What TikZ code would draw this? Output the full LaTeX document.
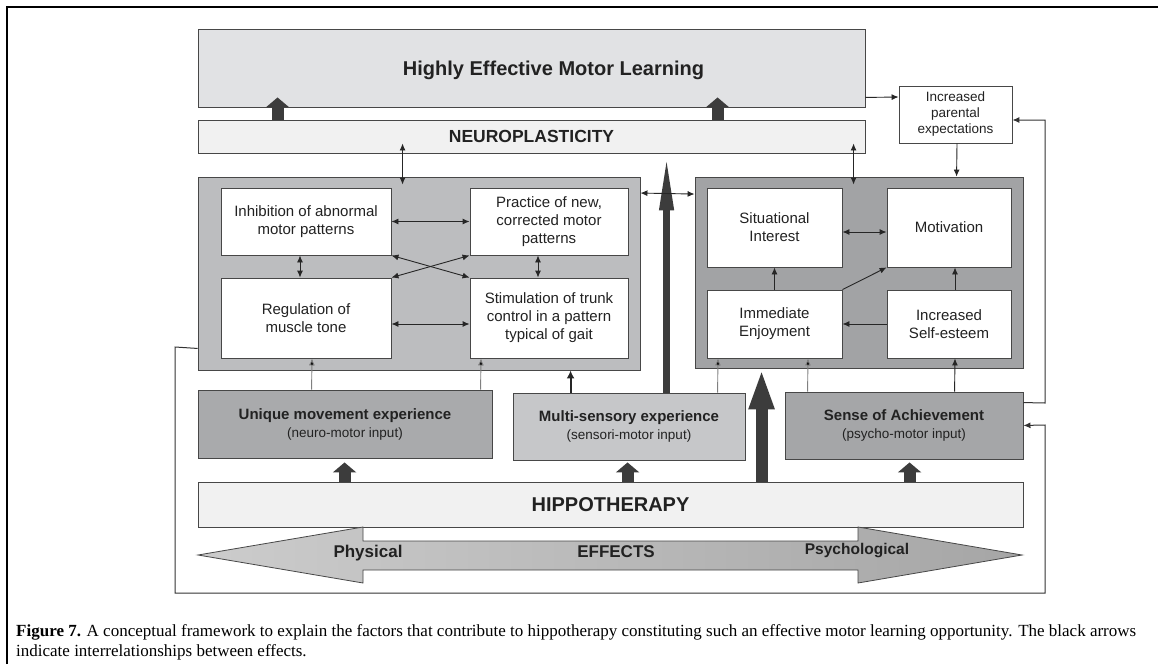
\documentclass[tikz,border=0pt]{standalone}
\usepackage{fontspec}
\setmainfont{Liberation Serif}
\setsansfont{Liberation Sans}
\usetikzlibrary{arrows.meta}

\definecolor{edge}{HTML}{474747}
\definecolor{blockfill}{HTML}{3C3C3C}
\definecolor{learnfill}{HTML}{E1E2E4}
\definecolor{barfill}{HTML}{F1F1F1}
\definecolor{physgroup}{HTML}{BCBDBF}
\definecolor{psychgroup}{HTML}{A2A3A5}
\definecolor{uniquefill}{HTML}{A9AAAC}
\definecolor{multifill}{HTML}{C6C7C9}
\definecolor{sensefill}{HTML}{A5A6A8}
\definecolor{inkgray}{HTML}{222222}

\newcommand{\boxfont}{\sffamily\fontsize{15}{18}\selectfont}
\newcommand{\subfont}{\sffamily\fontsize{13.5}{16}\selectfont}

\begin{document}
\begin{tikzpicture}[x=1pt, y=-1pt,
    bar/.style={draw=edge, line width=0.9pt, inner sep=0pt, text=inkgray},
    group/.style={draw=edge, line width=0.9pt, inner sep=0pt},
    box/.style={draw=edge, line width=0.9pt, fill=white, inner sep=0pt, align=center, text=inkgray, font=\boxfont},
    input/.style={draw=edge, line width=0.9pt, inner sep=0pt, align=center, text=inkgray, font=\boxfont},
    link/.style={draw=black!85, line width=0.9pt, {Latex[length=7pt,width=6pt]}-{Latex[length=7pt,width=6pt]}},
    onelink/.style={draw=black!85, line width=0.9pt, -{Latex[length=7pt,width=6pt]}},
    feed/.style={draw=black!50, line width=0.9pt, -{Latex[length=7pt,width=6pt,fill=black]}},
    feedback/.style={draw=black!80, line width=1pt, -{Latex[length=7pt,width=6pt]}},
    block/.style={draw=blockfill, line width=12pt, -{Triangle[width=23pt,length=10pt]}},
    effects/.style={draw=edge, line width=0.8pt, left color=gray!40, middle color=gray!55, right color=gray!70}
  ]
  \useasboundingbox (0,0) rectangle (1158,664);
  \fill[white] (0,0) rectangle (1158,664);
  \draw[line width=2pt] (7,664) -- (7,7) -- (1158,7);

  % outcome and neuroplasticity bars
  \node[bar, fill=learnfill, minimum width=667, minimum height=78] (learning) at (531.5,68) {};
  \node[text=inkgray, font=\sffamily\bfseries\fontsize{20}{24}\selectfont] (learningtext) at (553.5,70) {Highly Effective Motor Learning};
  \node[bar, fill=barfill, minimum width=667, minimum height=33, font=\sffamily\bfseries\fontsize{17.5}{21}\selectfont] (neuro) at (531.5,136.5) {NEUROPLASTICITY};
  \node[box, minimum width=113, minimum height=57, font=\subfont] (parental) at (955.5,114.5) {Increased\\parental\\expectations};

  % physical group
  \node[group, fill=physgroup, minimum width=442, minimum height=193] (leftgroup) at (419,273.5) {};
  \node[box, minimum width=170, minimum height=67] (inhibition) at (306,221.5) {Inhibition of abnormal\\motor patterns};
  \node[box, minimum width=158, minimum height=67] (practice) at (549,221.5) {Practice of new,\\corrected motor\\patterns};
  \node[box, minimum width=170, minimum height=80] (regulation) at (306,318) {Regulation of\\muscle tone};
  \node[box, minimum width=158, minimum height=80] (stimulation) at (549,318) {Stimulation of trunk\\control in a pattern\\typical of gait};

  % psychological group
  \node[group, fill=psychgroup, minimum width=328, minimum height=191] (rightgroup) at (859,272.5) {};
  \node[box, minimum width=135, minimum height=79] (situational) at (774.5,227.5) {Situational\\Interest};
  \node[box, minimum width=124, minimum height=79] (motivation) at (949,227.5) {Motivation};
  \node[box, minimum width=135, minimum height=68] (immediate) at (774.5,324) {Immediate\\Enjoyment};
  \node[box, minimum width=124, minimum height=68] (selfesteem) at (949,324) {Increased\\Self-esteem};

  % inputs
  \node[input, fill=uniquefill, minimum width=294, minimum height=68] (unique) at (345,424) {\textbf{Unique movement experience}\\{\subfont (neuro-motor input)}};
  \node[input, fill=multifill, minimum width=232, minimum height=67] (multi) at (629,426.5) {\textbf{Multi-sensory experience}\\{\subfont (sensori-motor input)}};
  \node[input, fill=sensefill, minimum width=238, minimum height=67] (sense) at (904,425.5) {\textbf{Sense of Achievement}\\{\subfont (psycho-motor input)}};
  \node[bar, fill=barfill, minimum width=825, minimum height=45, font=\sffamily\bfseries\fontsize{20}{24}\selectfont] (hippo) at (610.5,504.5) {HIPPOTHERAPY};

  % effects arrow
  \shade[effects] (198,555) -- (363,527) -- (363,541) -- (858,541) -- (858,527) -- (1022,555)
    -- (858,583) -- (858,570) -- (363,570) -- (363,583) -- cycle;
  \node[text=inkgray, font=\sffamily\bfseries\fontsize{17}{20}\selectfont] (physical) at (368,553) {Physical};
  \node[text=inkgray, font=\sffamily\bfseries\fontsize{17}{20}\selectfont] (effectstext) at (616,552) {EFFECTS};
  \node[text=inkgray, font=\sffamily\bfseries\fontsize{15.5}{19}\selectfont] (psychological) at (857,551) {Psychological};

  % block arrows
  \draw[block] ([shift={(80,0)}]neuro.north west) -- ([shift={(80,-10)}]learning.south west);
  \draw[block] ([shift={(520,0)}]neuro.north west) -- ([shift={(520,-10)}]learning.south west);
  \draw[block] ([shift={(147,0)}]hippo.north west) -- ([shift={(147,4)}]unique.south west);
  \draw[block] ([shift={(430,0)}]hippo.north west) -- ([shift={(115,2)}]multi.south west);
  \draw[block] ([shift={(712,0)}]hippo.north west) -- ([shift={(125,3)}]sense.south west);
  \draw[draw=blockfill, line width=7pt, -{Triangle[width=13pt,length=57pt]}] ([shift={(154,0)}]multi.north west) -- ([shift={(469,0)}]neuro.south west);
  \draw[block, -{Triangle[width=23pt,length=41pt]}] ([shift={(564,0)}]hippo.north west) -- ([shift={(67,0)}]rightgroup.south west);

  % links inside the physical group
  \draw[link] (inhibition.east) -- (practice.west);
  \draw[link] ([shift={(0,6)}]regulation.east) -- ([shift={(0,6)}]stimulation.west);
  \draw[link] ([shift={(-6,0)}]inhibition.south) -- ([shift={(-6,0)}]regulation.north);
  \draw[link] ([shift={(-11,0)}]practice.south) -- ([shift={(-11,0)}]stimulation.north);
  \draw[link] (inhibition.south east) -- (stimulation.north west);
  \draw[link] (regulation.north east) -- (practice.south west);

  % links inside the psychological group
  \draw[link] ([shift={(0,4.5)}]situational.east) -- ([shift={(0,4.5)}]motivation.west);
  \draw[onelink] (immediate.north) -- (situational.south);
  \draw[onelink] (immediate.north east) -- (motivation.south west);
  \draw[onelink] (selfesteem.west) -- (immediate.east);
  \draw[onelink] ([shift={(6,0)}]selfesteem.north) -- ([shift={(6,0)}]motivation.south);

  % links between levels
  \draw[link] ([shift={(205,-10)}]neuro.south west) -- ([shift={(205,8)}]leftgroup.north west);
  \draw[link] ([shift={(656,-10)}]neuro.south west) -- ([shift={(159,8)}]rightgroup.north west);
  \draw[link] ([shift={(0,16.5)}]leftgroup.north east) -- ([shift={(0,17.5)}]rightgroup.north west);
  \draw[onelink] ([shift={(0,-10)}]learning.south east) -- ([shift={(0,-17.5)}]parental.west);
  \draw[onelink] ([shift={(1.5,0)}]parental.south) -- ([shift={(262,0)}]rightgroup.north west);

  % inputs feeding the groups
  \draw[feed] ([shift={(114,0)}]unique.north west) -- ([shift={(6,0)}]regulation.south);
  \draw[feed] ([shift={(283,0)}]unique.north west) -- ([shift={(-68,0)}]stimulation.south);
  \draw[draw=black!85, line width=2pt, -{Latex[length=8pt,width=8pt]}] ([shift={(58,0)}]multi.north west) -- ([shift={(373,0)}]leftgroup.south west);
  \draw[feed] ([shift={(205,0)}]multi.north west) -- ([shift={(-56.5,0)}]immediate.south);
  \draw[feed] ([shift={(23,0)}]sense.north west) -- ([shift={(33.5,0)}]immediate.south);
  \draw[onelink] ([shift={(170,0)}]sense.north west) -- ([shift={(6,0)}]selfesteem.south);

  % feedback loops
  \draw[feedback] ([shift={(0,11)}]sense.north east) -- (1045,403) -- (1045,120) -- ([shift={(0,5.5)}]parental.east);
  \draw[feedback] ([shift={(0,-22)}]leftgroup.south west) -- (175,347) -- (175,593) -- (1045,593) -- (1045,425) -- ([shift={(0,-34)}]sense.south east);

  \node[anchor=north west, inner sep=0pt, align=left, font=\rmfamily\fontsize{17}{20}\selectfont] (caption) at (16,624)
    {\textbf{Figure 7.} A conceptual framework to explain the factors that contribute to hippotherapy constituting such an effective motor learning opportunity. The black arrows\\indicate interrelationships between effects.};
\end{tikzpicture}
\end{document}
